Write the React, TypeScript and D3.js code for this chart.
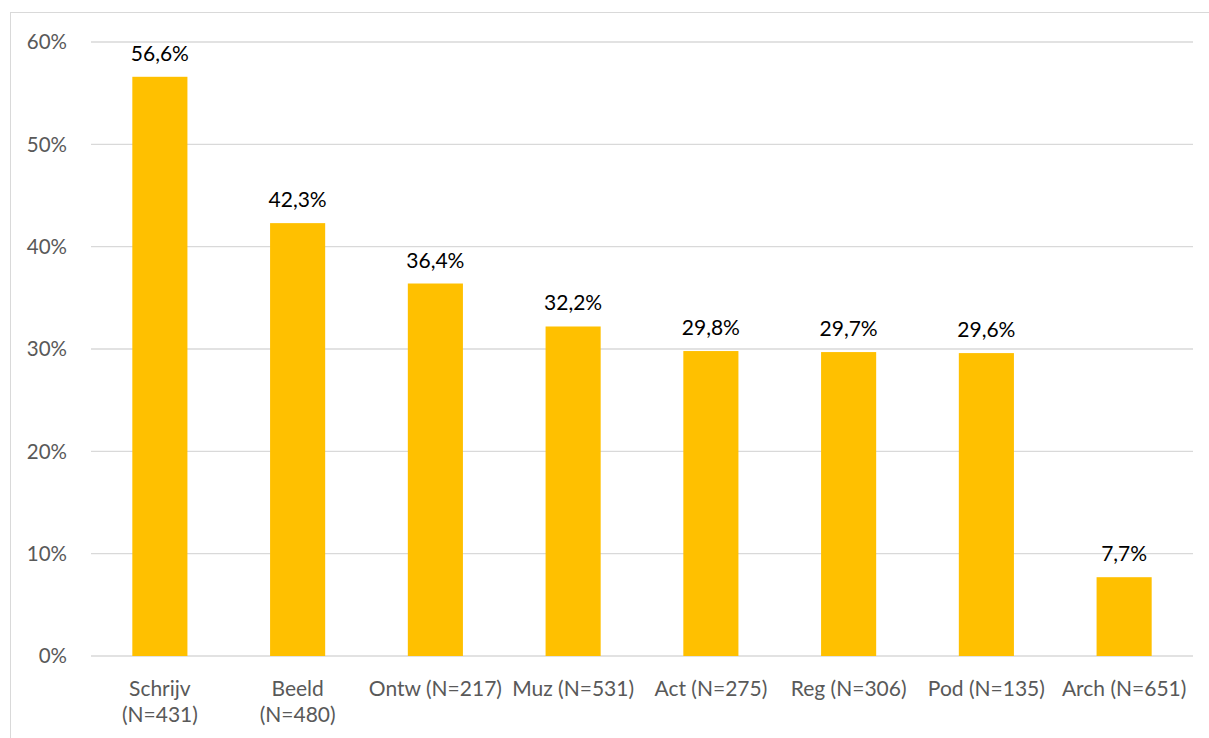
import React from "react";
import * as d3 from "d3";

const categories = [
  "Schrijv\n(N=431)",
  "Beeld\n(N=480)",
  "Ontw (N=217)",
  "Muz (N=531)",
  "Act (N=275)",
  "Reg (N=306)",
  "Pod (N=135)",
  "Arch (N=651)",
];
const values = [56.6, 42.3, 36.4, 32.2, 29.8, 29.7, 29.6, 7.7];
const yTicks = [0, 10, 20, 30, 40, 50, 60];

const W = 1209;
const H = 738;
const left = 91;
const right = 1193;
const top = 42;
const bottom = 656;
const FONT = "Lato, 'Open Sans', sans-serif";

export default function App() {
  const x = d3.scaleBand<string>().domain(categories).range([left, right]).paddingInner(0.6).paddingOuter(0.3);
  const y = d3.scaleLinear().domain([0, 60]).range([bottom, top]);
  const fmt = (v: number) => v.toFixed(1).replace(".", ",") + "%";
  return (
    <svg width={W} height={H} style={{ position: "absolute", left: 0, top: 0 }}>
      <rect x={0} y={0} width={W} height={H} fill="#fff" />
      <rect x={10.5} y={12.5} width={W + 10} height={H + 10} fill="none" stroke="#d9d9d9" strokeWidth={1} />
      {yTicks.map((t) => (
        <g key={t}>
          <line x1={left} x2={right} y1={y(t)} y2={y(t)} stroke="#d9d9d9" strokeWidth={1.3} />
          <text x={67} y={y(t)} dy="0.35em" textAnchor="end" fontFamily={FONT} fontSize={20.5} fill="#595959">
            {t + "%"}
          </text>
        </g>
      ))}
      {categories.map((c, i) => {
        const cx = (x(c) as number) + x.bandwidth() / 2;
        return (
          <g key={c}>
            <rect x={x(c)} y={y(values[i])} width={x.bandwidth()} height={bottom - y(values[i])} fill="#FFC000" />
            <text x={cx} y={y(values[i]) - 16} textAnchor="middle" fontFamily={FONT} fontSize={21} fill="#000">
              {fmt(values[i])}
            </text>
            {c.split("\n").map((line, j) => (
              <text key={j} x={cx} y={696 + j * 26} textAnchor="middle" fontFamily={FONT} fontSize={21} fill="#595959">
                {line}
              </text>
            ))}
          </g>
        );
      })}
    </svg>
  );
}
